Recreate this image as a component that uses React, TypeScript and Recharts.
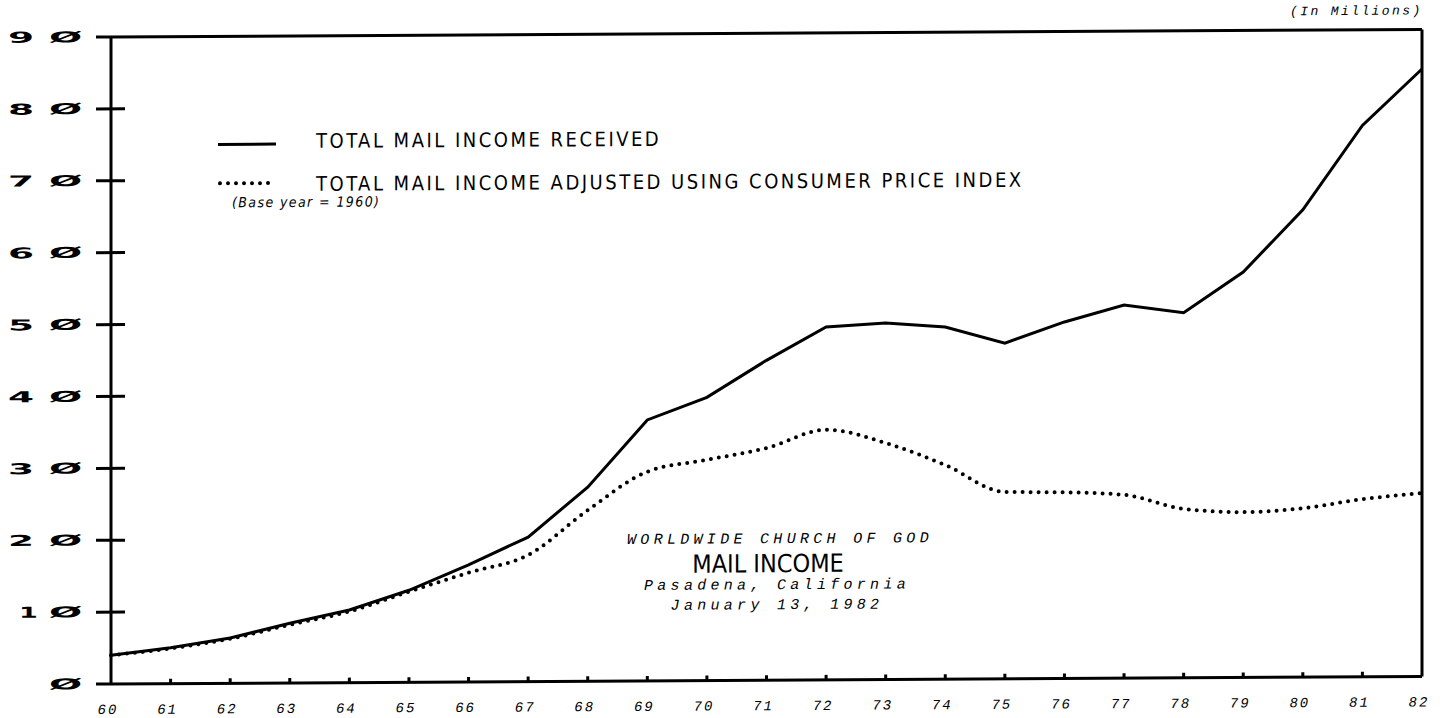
import React from "react";
import {
  LineChart,
  Line,
  XAxis,
  YAxis,
  ReferenceLine,
} from "recharts";

const years = [60, 61, 62, 63, 64, 65, 66, 67, 68, 69, 70, 71, 72, 73, 74, 75, 76, 77, 78, 79, 80, 81, 82];
const received = [4.0, 5.0, 6.3, 8.3, 10.1, 12.8, 16.3, 20.1, 27.0, 36.3, 39.4, 44.5, 49.1, 49.6, 49.0, 46.7, 49.6, 51.9, 50.8, 56.4, 65.0, 76.7, 84.5];
const adjusted = [4.0, 4.9, 6.2, 8.1, 9.9, 12.6, 15.2, 17.6, 23.8, 29.1, 30.7, 32.3, 34.8, 32.9, 29.8, 26.0, 25.9, 25.5, 23.5, 23.0, 23.5, 24.7, 25.5];
const yTicks = [0, 10, 20, 30, 40, 50, 60, 70, 80, 90];
const yTickLabels = ["Ø", "1Ø", "2Ø", "3Ø", "4Ø", "5Ø", "6Ø", "7Ø", "8Ø", "9Ø"];

const data = years.map((yr, i) => ({ year: yr, received: received[i], adjusted: adjusted[i] }));

const mono = '"Liberation Mono", "DejaVu Sans Mono", monospace';
const cond = '"DejaVu Sans Condensed", "DejaVu Sans", sans-serif';

// wide plotter-style digits, each glyph stretched horizontally
const LeftTick = (props: any) => {
  const { x, y, payload } = props;
  const v = payload.value;
  const inner = v === 0 || v === 90 ? 0 : 14;
  const label: string = yTickLabels[yTicks.indexOf(v)];
  const chars = Array.from(label);
  const glyph = {
    fontFamily: '"DejaVu Sans", sans-serif',
    fontWeight: "bold" as const,
    fontSize: 15,
    fill: "#000",
    dominantBaseline: "central" as const,
    x: 0,
    y: 0,
  };
  const first = chars.length === 2 ? chars[0] : null;
  return (
    <g>
      <line x1={x - 15} x2={x + inner} y1={y} y2={y} stroke="#000" strokeWidth={3} />
      {first && (
        <text
          {...glyph}
          transform={`translate(${first === "1" ? x - 92 : x - 103},${y}) scale(${first === "1" ? 1.8 : 2.5},1)`}
        >
          {first}
        </text>
      )}
      <text {...glyph} transform={`translate(${x - 62},${y}) scale(2.6,1)`}>
        {chars[chars.length - 1]}
      </text>
    </g>
  );
};

const RightTick = (props: any) => {
  const { x, y, payload } = props;
  const v = payload.value;
  if (v === 0 || v === 90) return <g />;
  return <line x1={x - 29} x2={x} y1={y} y2={y} stroke="#000" strokeWidth={3} />;
};

const BottomTick = (props: any) => {
  const { x, y, payload } = props;
  const v = payload.value;
  return (
    <g>
      {v > 60 && v < 82 && <line x1={x} x2={x} y1={y - 5} y2={y} stroke="#000" strokeWidth={3} />}
      <text
        x={x - 3}
        y={y + 30}
        textAnchor="middle"
        fontFamily={mono}
        fontStyle="italic"
        fontSize={14}
        letterSpacing={2}
        fill="#000"
      >
        {v}
      </text>
    </g>
  );
};

const txt = (extra: React.CSSProperties): React.CSSProperties => ({
  position: "absolute",
  whiteSpace: "nowrap",
  lineHeight: 1,
  color: "#000",
  ...extra,
});

export default function App() {
  return (
    <div
      style={{
        position: "absolute",
        left: 0,
        top: 0,
        width: 1443,
        height: 718,
        background: "#fff",
        transform: "skewY(-0.33deg)",
        transformOrigin: "111px 684px",
      }}
    >
      <LineChart
        width={1443}
        height={718}
        data={data}
        margin={{ top: 37, right: 20, bottom: 0, left: 0 }}
      >
        <XAxis
          dataKey="year"
          type="number"
          domain={[60, 82]}
          ticks={years}
          interval={0}
          height={34}
          axisLine={{ stroke: "#000", strokeWidth: 3 }}
          tickLine={false}
          tickSize={0}
          tickMargin={0}
          tick={<BottomTick />}
        />
        <YAxis
          yAxisId="left"
          domain={[0, 90]}
          ticks={yTicks}
          interval={0}
          width={111}
          axisLine={{ stroke: "#000", strokeWidth: 3 }}
          tickLine={false}
          tickSize={0}
          tickMargin={0}
          tick={<LeftTick />}
        />
        <YAxis
          yAxisId="right"
          orientation="right"
          domain={[0, 90]}
          ticks={yTicks}
          interval={0}
          width={1}
          axisLine={{ stroke: "#000", strokeWidth: 3 }}
          tickLine={false}
          tickSize={0}
          tickMargin={0}
          tick={<RightTick />}
        />
        <ReferenceLine yAxisId="left" y={90} stroke="#000" strokeWidth={3} />
        <Line
          yAxisId="left"
          dataKey="received"
          type="linear"
          stroke="#000"
          strokeWidth={3}
          dot={false}
          isAnimationActive={false}
        />
        <Line
          yAxisId="left"
          dataKey="adjusted"
          type="monotone"
          stroke="#000"
          strokeWidth={4}
          strokeDasharray="0 8"
          strokeLinecap="round"
          dot={false}
          isAnimationActive={false}
        />
      </LineChart>

      <div style={txt({ left: 1290, top: 12, fontFamily: mono, fontStyle: "italic", fontSize: 13, letterSpacing: 2.4 })}>
        (In Millions)
      </div>

      <svg style={{ position: "absolute", left: 0, top: 0 }} width={1443} height={718} pointerEvents="none">
        <line x1={218} x2={276} y1={145} y2={145} stroke="#000" strokeWidth={3} />
        <line x1={220} x2={276} y1={184} y2={184} stroke="#000" strokeWidth={4} strokeDasharray="0 8" strokeLinecap="round" />
      </svg>
      <div style={txt({ left: 316, top: 132, fontFamily: cond, fontSize: 20, letterSpacing: 2.5 })}>
        TOTAL MAIL INCOME RECEIVED
      </div>
      <div style={txt({ left: 316, top: 175, fontFamily: cond, fontSize: 20, letterSpacing: 2.5 })}>
        TOTAL MAIL INCOME ADJUSTED USING CONSUMER PRICE INDEX
      </div>
      <div style={txt({ left: 232, top: 196, fontFamily: cond, fontStyle: "italic", fontSize: 14, letterSpacing: 1.4 })}>
        (Base year = 1960)
      </div>

      <div style={{ position: "absolute", left: 580, width: 400, top: 536, textAlign: "center" }}>
        <div style={txt({ position: "relative", fontFamily: mono, fontStyle: "italic", fontSize: 15, letterSpacing: 4.3 })}>
          WORLDWIDE CHURCH OF GOD
        </div>
      </div>
      <div style={{ position: "absolute", left: 568, width: 400, top: 555, textAlign: "center" }}>
        <div style={txt({ position: "relative", fontFamily: cond, fontSize: 25 })}>MAIL INCOME</div>
      </div>
      <div style={{ position: "absolute", left: 577, width: 400, top: 582, textAlign: "center" }}>
        <div style={txt({ position: "relative", fontFamily: mono, fontStyle: "italic", fontSize: 15, letterSpacing: 4.3 })}>
          Pasadena, California
        </div>
      </div>
      <div style={{ position: "absolute", left: 577, width: 400, top: 602, textAlign: "center" }}>
        <div style={txt({ position: "relative", fontFamily: mono, fontStyle: "italic", fontSize: 15, letterSpacing: 4.3 })}>
          January 13, 1982
        </div>
      </div>
    </div>
  );
}
